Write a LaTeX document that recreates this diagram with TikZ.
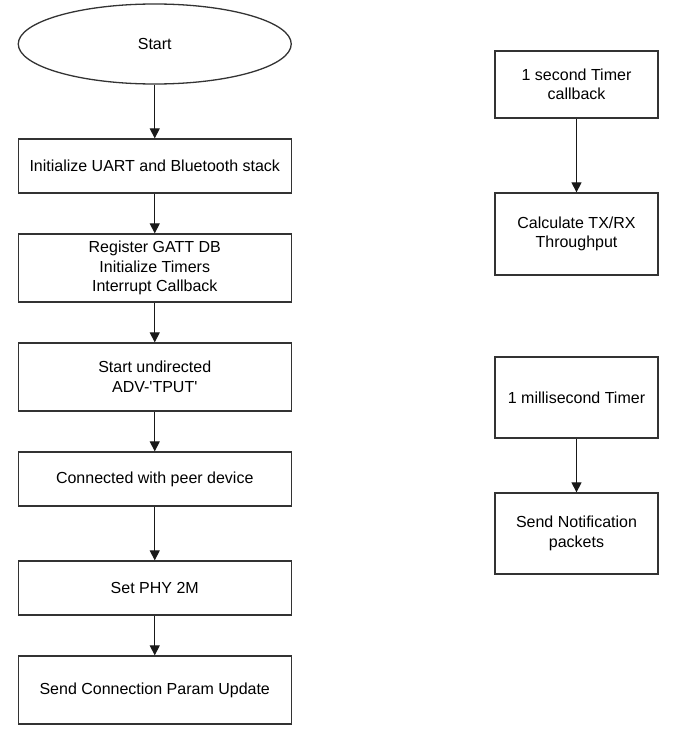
\documentclass[tikz,border=0pt]{standalone}
\usepackage{fontspec}
\setmainfont{Liberation Sans}
\usetikzlibrary{arrows.meta,shapes.geometric}

\tikzset{
  stepbox/.style={draw=black!80,line width=1.3pt,fill=white,align=center,inner sep=0pt,
    font=\fontsize{16}{19.5}\selectfont},
  flow/.style={->,line width=1.2pt,black!90}
}

\begin{document}
\begin{tikzpicture}[x=1pt,y=-1pt,>={Triangle[length=10pt,width=10pt]}]
\useasboundingbox (0,0) rectangle (692,739);
% main flow
\node[stepbox,ellipse,minimum width=273pt,minimum height=80pt] (start) at (154.75,44) {Start};
\node[stepbox,minimum width=273pt,minimum height=54pt] (uart) at (154.75,166) {Initialize UART and Bluetooth stack};
\node[stepbox,minimum width=273pt,minimum height=68pt] (gatt) at (154.75,268) {Register GATT DB\\Initialize Timers\\Interrupt Callback};
\node[stepbox,minimum width=273pt,minimum height=68pt] (adv) at (154.75,377) {Start undirected\\ADV-\textquotesingle TPUT\textquotesingle};
\node[stepbox,minimum width=273pt,minimum height=54pt] (conn) at (154.75,479) {Connected with peer device};
\node[stepbox,minimum width=273pt,minimum height=54pt] (phy) at (154.75,588) {Set PHY 2M};
\node[stepbox,minimum width=273pt,minimum height=68pt] (param) at (154.75,690) {Send Connection Param Update};
% timer callbacks
\node[stepbox,minimum width=163pt,minimum height=67pt] (sec) at (576.5,84.5) {1 second Timer\\callback};
\node[stepbox,minimum width=163pt,minimum height=82pt] (calc) at (576.5,234) {Calculate TX/RX\\Throughput};
\node[stepbox,minimum width=163pt,minimum height=81pt] (msec) at (576.5,397.5) {1 millisecond Timer};
\node[stepbox,minimum width=163pt,minimum height=81pt] (notif) at (576.5,533.5) {Send Notification\\packets};

\draw[flow] (start) -- (uart);
\draw[flow] (uart) -- (gatt);
\draw[flow] (gatt) -- (adv);
\draw[flow] (adv) -- (conn);
\draw[flow] (conn) -- (phy);
\draw[flow] (phy) -- (param);
\draw[flow] (sec) -- (calc);
\draw[flow] (msec) -- (notif);
\end{tikzpicture}
\end{document}
